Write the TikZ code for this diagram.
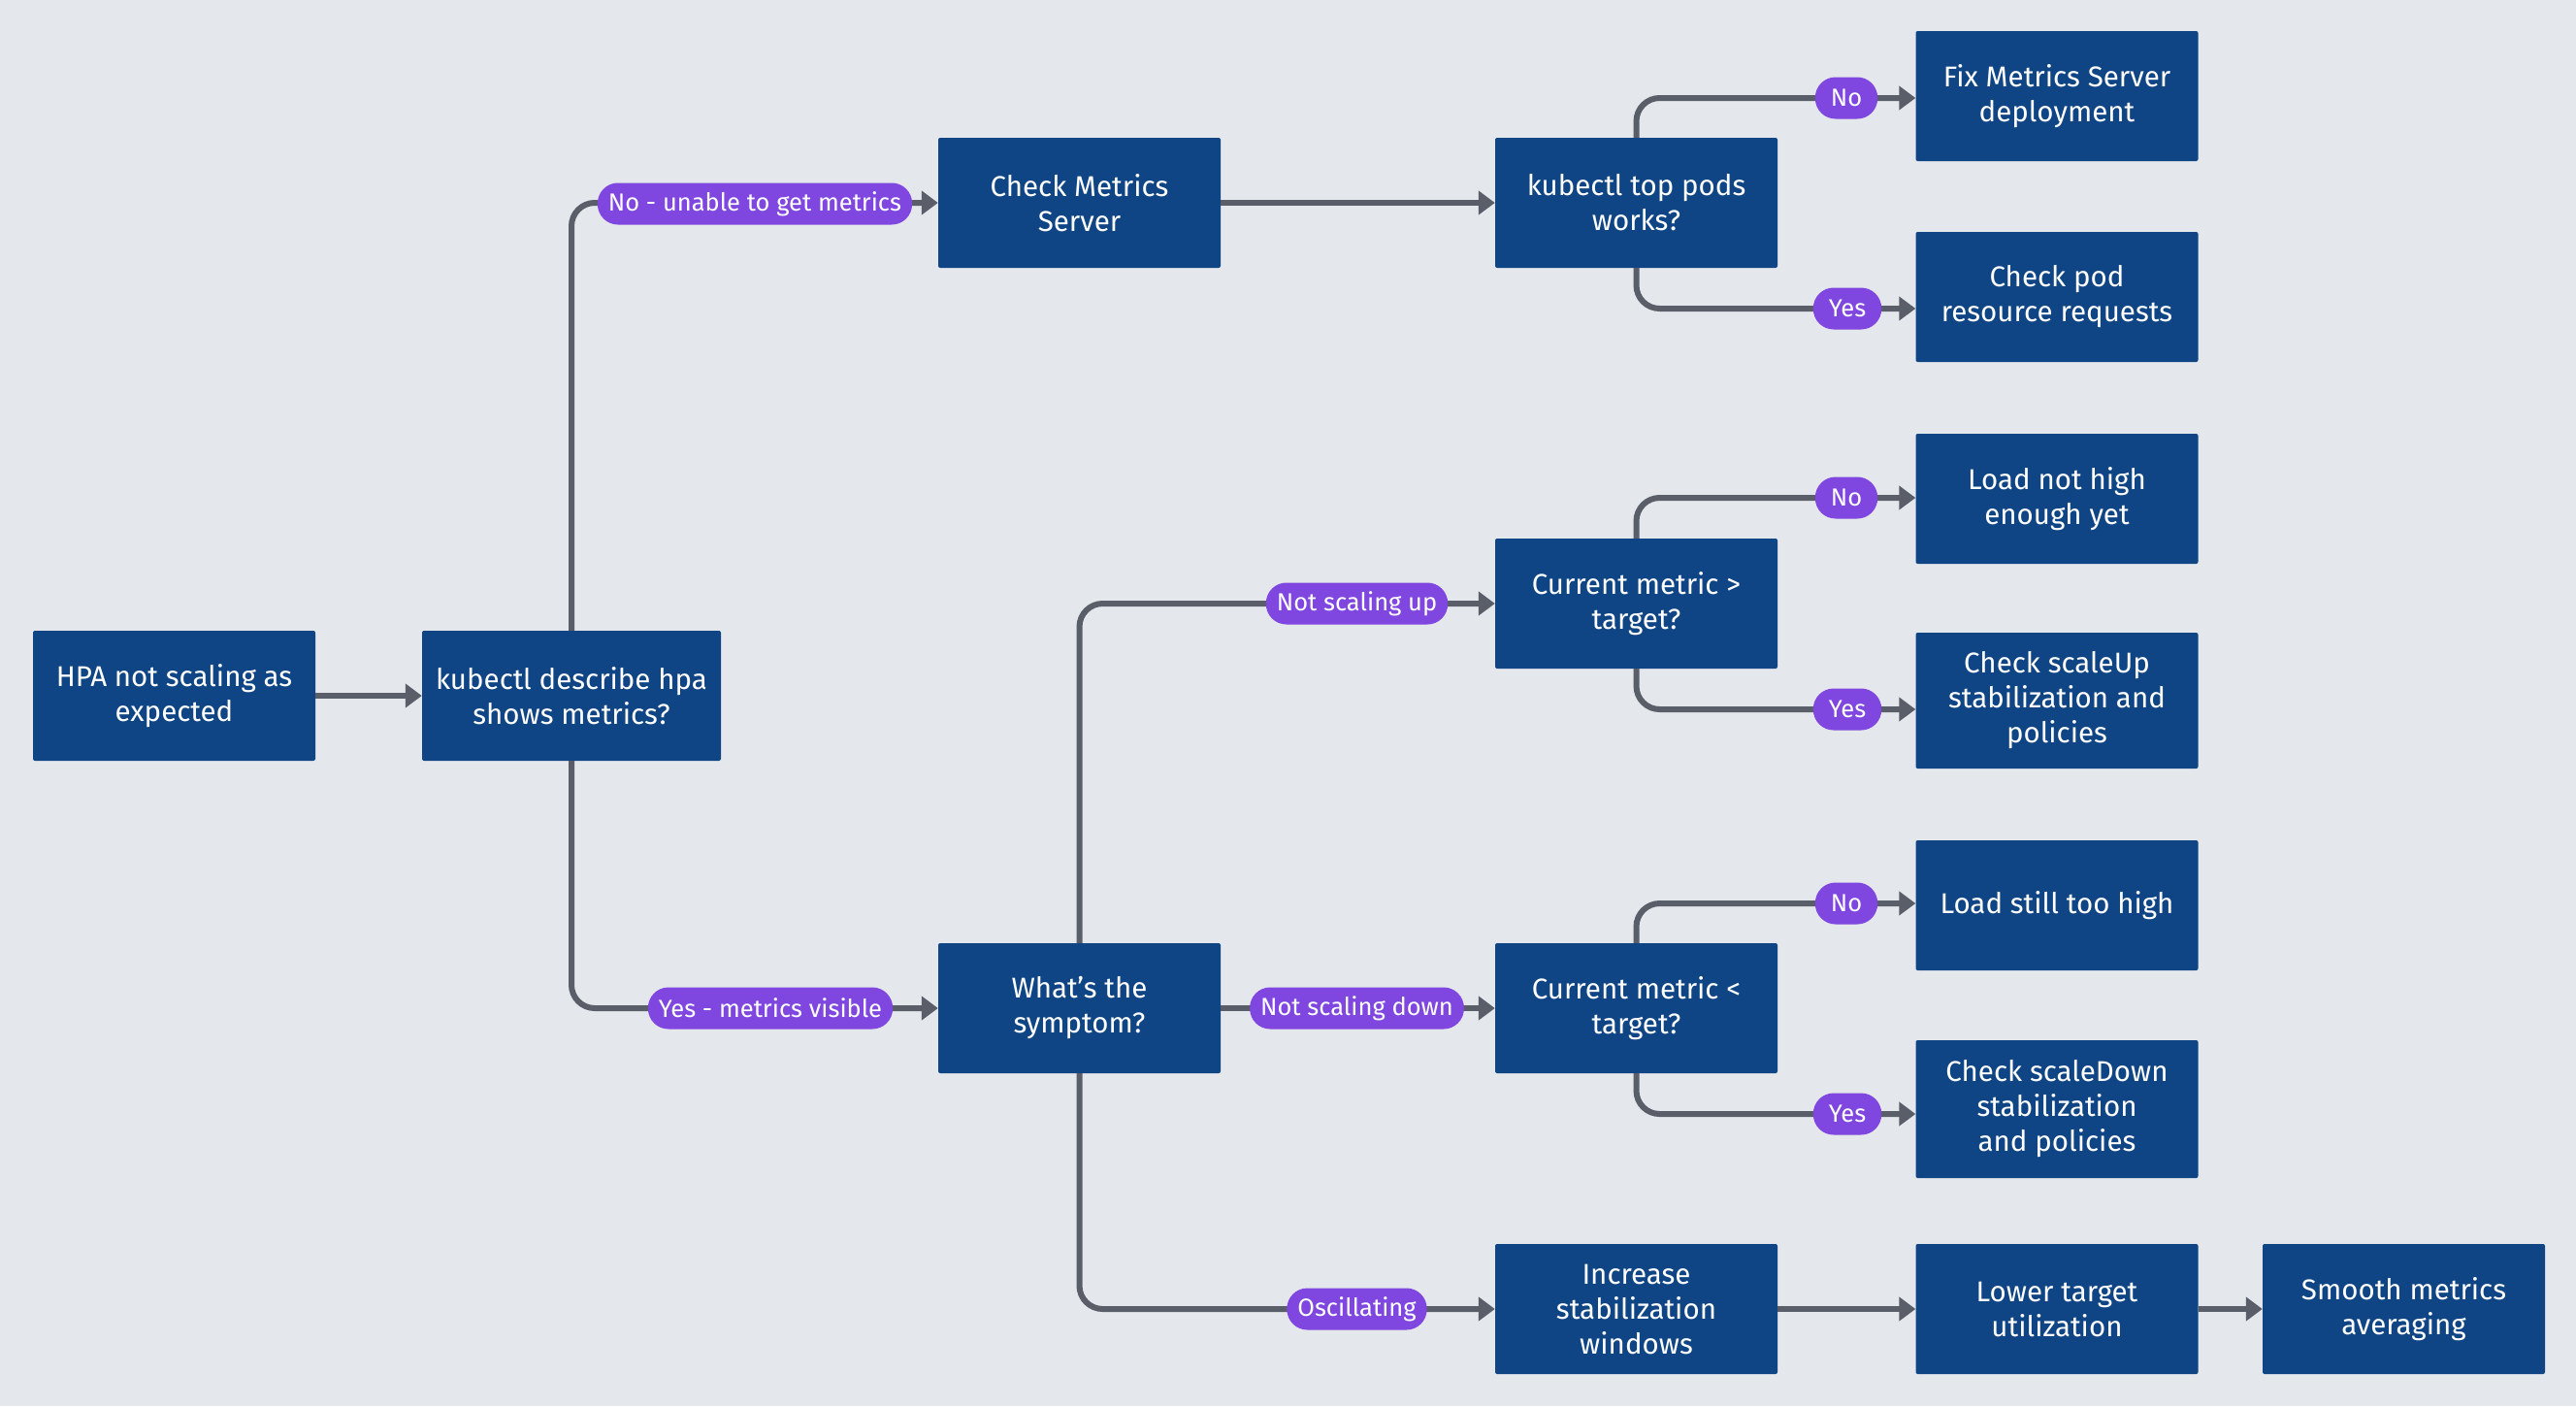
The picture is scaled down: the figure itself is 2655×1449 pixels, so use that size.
\documentclass[tikz,border=0pt]{standalone}
\usepackage{fontspec}
\setmainfont{Fira Sans}
\usetikzlibrary{arrows.meta}
\definecolor{bgc}{HTML}{E4E7EB}
\definecolor{boxblue}{HTML}{0F4584}
\definecolor{pillc}{HTML}{8046E0}
\definecolor{linec}{HTML}{595E69}
\begin{document}
\begin{tikzpicture}[x=1pt,y=-1pt,
 box/.style={fill=boxblue, rounded corners=2pt, minimum width=291pt, minimum height=134pt, align=center, text=white, font=\fontsize{29.5}{36}\selectfont, inner sep=0pt},
 pillbox/.style={fill=pillc, rounded corners=21pt, text=white, font=\fontsize{25.5}{28}\selectfont, minimum height=43pt, inner xsep=11pt, inner ysep=0pt},
 shortpill/.style={pillbox, inner xsep=16pt},
 conn/.style={draw=linec, line width=6pt, rounded corners=24pt, -{Triangle[length=17pt,width=24pt]}},
]
\fill[bgc] (0,0) rectangle (2655,1449);
\useasboundingbox (0,0) rectangle (2655,1449);

% boxes
\node[box] (hpa) at (179.5,717) {HPA not scaling as\\expected};
\node[box, minimum width=308pt] (desc) at (589,717) {kubectl describe hpa\\shows metrics?};
\node[box] (chk) at (1112.5,209) {Check Metrics\\Server};
\node[box] (top) at (1686.5,209) {kubectl top pods\\works?};
\node[box] (fix) at (2120,99) {Fix Metrics Server\\deployment};
\node[box] (pod) at (2120,306) {Check pod\\resource requests};
\node[box] (load) at (2120,514) {Load not high\\enough yet};
\node[box, minimum height=140pt] (scup) at (2120,722) {Check scaleUp\\stabilization and\\policies};
\node[box] (gt) at (1686.5,622) {Current metric >\\target?};
\node[box] (sym) at (1112.5,1039) {What's the\\symptom?};
\node[box] (lt) at (1686.5,1039) {Current metric <\\target?};
\node[box] (high) at (2120,933) {Load still too high};
\node[box, minimum height=142pt] (scdown) at (2120,1143) {Check scaleDown\\stabilization\\and policies};
\node[box] (inc) at (1686.5,1349) {Increase\\stabilization\\windows};
\node[box] (lower) at (2120,1349) {Lower target\\utilization};
\node[box] (smooth) at (2477.5,1349) {Smooth metrics\\averaging};

% branch levels
\coordinate (yTopUp) at (0,101);
\coordinate (yTopDn) at (0,318);
\coordinate (yGtUp) at (0,513);
\coordinate (yGtDn) at (0,731);
\coordinate (yLtUp) at (0,931);
\coordinate (yLtDn) at (0,1148);

% connectors
\draw[conn] (hpa) -- (desc);
\draw[conn] (desc.north) |- (chk.west);
\draw[conn] (desc.south) |- (sym.west);
\draw[conn] (chk) -- (top);
\draw[conn] (top.north) |- (fix.west |- yTopUp);
\draw[conn] (top.south) |- (pod.west |- yTopDn);
\draw[conn] (sym.north) |- (gt.west);
\draw[conn] (sym) -- (lt);
\draw[conn] (sym.south) |- (inc.west);
\draw[conn] (gt.north) |- (load.west |- yGtUp);
\draw[conn] (gt.south) |- (scup.west |- yGtDn);
\draw[conn] (lt.north) |- (high.west |- yLtUp);
\draw[conn] (lt.south) |- (scdown.west |- yLtDn);
\draw[conn] (inc) -- (lower);
\draw[conn] (lower) -- (smooth);

% labels
\node[pillbox] (p1) at (778,210) {No - unable to get metrics};
\node[pillbox] (p2) at (794,1039) {Yes - metrics visible};
\node[pillbox] (p3) at (1398.5,622) {Not scaling up};
\node[pillbox] (p4) at (1398.5,1039) {Not scaling down};
\node[pillbox] (p5) at (1398.5,1349) {Oscillating};
\node[shortpill] (p6) at (1903,101) {No};
\node[shortpill] (p7) at (1904,318) {Yes};
\node[shortpill] (p8) at (1903,513) {No};
\node[shortpill] (p9) at (1904,731) {Yes};
\node[shortpill] (p10) at (1903,931) {No};
\node[shortpill] (p11) at (1904,1148) {Yes};
\end{tikzpicture}
\end{document}
